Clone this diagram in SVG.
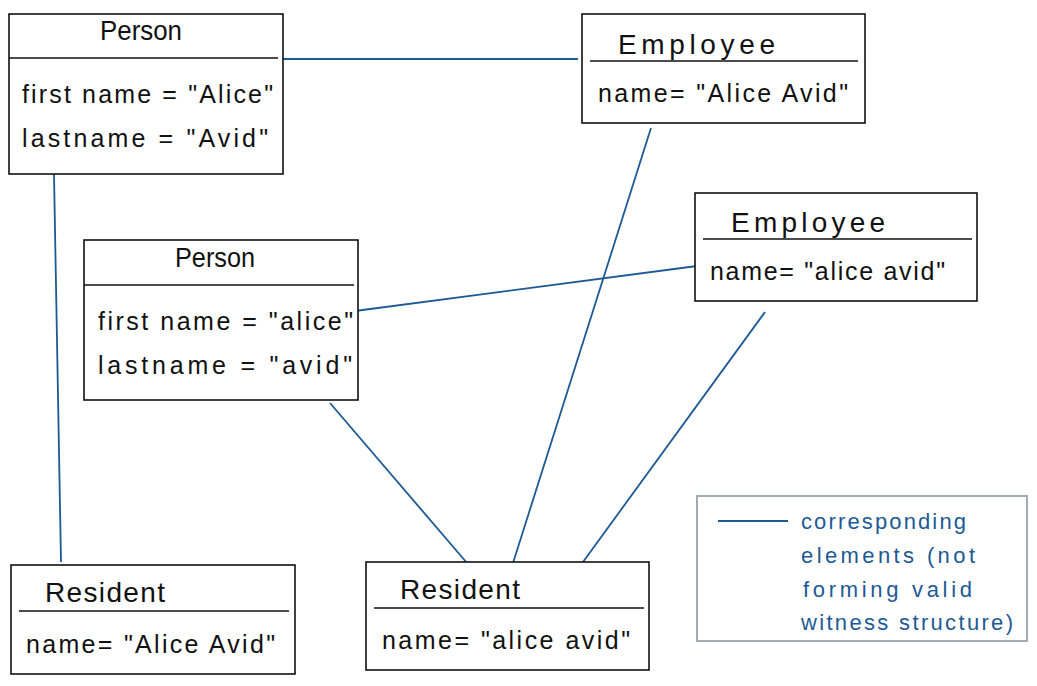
<svg xmlns="http://www.w3.org/2000/svg" width="1037" height="686" viewBox="0 0 1037 686">
<style>
.box{fill:#fff;stroke:#111;stroke-width:1.6}
.div{stroke:#111;stroke-width:1.6}
.t{font-family:"Liberation Sans",Arial,sans-serif;font-size:28px;fill:#111}
.a{font-family:"Liberation Sans",Arial,sans-serif;font-size:25px;fill:#111}
.c{stroke:#1d5a94;stroke-width:1.8;fill:none}
.lg{font-family:"Liberation Sans",Arial,sans-serif;font-size:22px;fill:#1d5a94}
</style>
<rect width="1037" height="686" fill="#fff"/>
<g id="connectors">
<line class="c" x1="283" y1="59" x2="578" y2="59"/>
<line class="c" x1="54" y1="174" x2="61" y2="562"/>
<line class="c" x1="651" y1="128" x2="513" y2="563"/>
<line class="c" x1="355" y1="311" x2="697" y2="266"/>
<line class="c" x1="330" y1="403" x2="467" y2="563"/>
<line class="c" x1="765" y1="312" x2="583" y2="562"/>
</g>
<g id="person1">
<rect class="box" x="9" y="14" width="274" height="160"/>
<line class="div" x1="9" y1="58" x2="278" y2="58"/>
<text class="t" x="100" y="40" textLength="82" lengthAdjust="spacingAndGlyphs">Person</text>
<text class="a" x="22" y="103" textLength="251" lengthAdjust="spacing">first name = "Alice"</text>
<text class="a" x="22" y="147" textLength="246" lengthAdjust="spacing">lastname = "Avid"</text>
</g>
<g id="employee1">
<rect class="box" x="582" y="14" width="283" height="109"/>
<line class="div" x1="590" y1="61" x2="858" y2="61"/>
<text class="t" x="618" y="54" textLength="157" lengthAdjust="spacing">Employee</text>
<text class="a" x="598" y="102" textLength="250" lengthAdjust="spacing">name= "Alice Avid"</text>
</g>
<g id="employee2">
<rect class="box" x="695" y="193" width="282" height="108"/>
<line class="div" x1="703" y1="239" x2="972" y2="239"/>
<text class="t" x="731" y="232" textLength="154" lengthAdjust="spacing">Employee</text>
<text class="a" x="710" y="280" textLength="235" lengthAdjust="spacing">name= "alice avid"</text>
</g>
<g id="person2">
<rect class="box" x="84" y="240" width="274" height="160"/>
<line class="div" x1="84" y1="285" x2="354" y2="285"/>
<text class="t" x="175" y="267" textLength="80" lengthAdjust="spacingAndGlyphs">Person</text>
<text class="a" x="98" y="330" textLength="255" lengthAdjust="spacing">first name = "alice"</text>
<text class="a" x="98" y="374" textLength="254" lengthAdjust="spacing">lastname = "avid"</text>
</g>
<g id="resident1">
<rect class="box" x="11" y="565" width="284" height="109"/>
<line class="div" x1="19" y1="611" x2="289" y2="611"/>
<text class="t" x="45" y="602" textLength="120" lengthAdjust="spacing">Resident</text>
<text class="a" x="26" y="653" textLength="249" lengthAdjust="spacing">name= "Alice Avid"</text>
</g>
<g id="resident2">
<rect class="box" x="366" y="562" width="283" height="108"/>
<line class="div" x1="374" y1="608" x2="644" y2="608"/>
<text class="t" x="400" y="599" textLength="120" lengthAdjust="spacing">Resident</text>
<text class="a" x="382" y="649" textLength="248" lengthAdjust="spacing">name= "alice avid"</text>
</g>
<g id="legend">
<rect x="697" y="496" width="330" height="145" fill="#fff" stroke="#a3abb1" stroke-width="2"/>
<line class="c" x1="718" y1="521" x2="788" y2="521"/>
<text class="lg" x="801" y="529" textLength="165" lengthAdjust="spacing">corresponding</text>
<text class="lg" x="801" y="563" textLength="174" lengthAdjust="spacing">elements (not</text>
<text class="lg" x="803" y="597" textLength="169" lengthAdjust="spacing">forming valid</text>
<text class="lg" x="801" y="630" textLength="212" lengthAdjust="spacing">witness structure)</text>
</g>
</svg>
